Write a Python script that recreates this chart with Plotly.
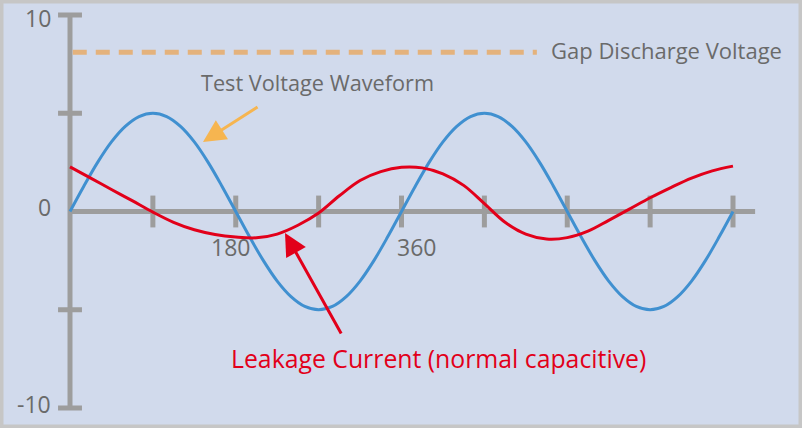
import plotly.graph_objects as go

# ---------------- data ----------------
deg_blue = [0, 15, 30, 45, 60, 75, 90, 105, 120, 135, 150, 165, 180,
            195, 210, 225, 240, 255, 270, 285, 300, 315, 330, 345, 360,
            375, 390, 405, 420, 435, 450, 465, 480, 495, 510, 525, 540,
            555, 570, 585, 600, 615, 630, 645, 660, 675, 690, 705, 720]
volt_blue = [0, 1.29, 2.5, 3.54, 4.33, 4.83, 5, 4.83, 4.33, 3.54, 2.5, 1.29, 0,
             -1.29, -2.5, -3.54, -4.33, -4.83, -5, -4.83, -4.33, -3.54, -2.5, -1.29, 0,
             1.29, 2.5, 3.54, 4.33, 4.83, 5, 4.83, 4.33, 3.54, 2.5, 1.29, 0,
             -1.29, -2.5, -3.54, -4.33, -4.83, -5, -4.83, -4.33, -3.54, -2.5, -1.29, 0]

deg_red = [0, 22.5, 45, 67.5, 90, 112.5, 135, 157.5, 180, 202.5, 225, 247.5,
           270, 292.5, 315, 337.5, 360, 382.5, 405, 427.5, 450, 472.5, 495,
           517.5, 540, 562.5, 585, 607.5, 630, 652.5, 675, 697.5, 720]
cur_red = [2.27, 1.70, 1.12, 0.55, -0.03, -0.55, -0.93, -1.17, -1.30, -1.34, -1.15, -0.70,
           -0.08, 0.80, 1.58, 2.03, 2.25, 2.22, 1.92, 1.33, 0.40, -0.55, -1.15,
           -1.40, -1.33, -1.00, -0.45, 0.12, 0.70, 1.22, 1.70, 2.07, 2.31]

gap_level = 8.1
gap_x = [3, 507]

x_ticks = [90, 180, 270, 360, 450, 540, 630, 720]
y_ticks = [10, 5, -5, -10]
y_tick_labels = ["10", "0", "-10"]
y_tick_label_vals = [10, 0, -10]
x_tick_labels = ["180", "360"]
x_tick_label_pos = [174.8, 376.8]

# ---------------- style ----------------
BG = "#d1daec"
FRAME = "#c6c6c6"
AX = "#9d9d9d"
BLUE = "#4090d0"
RED = "#e2001a"
TAN = "#e4b27c"
ORANGE = "#f6b550"
TXT = "#6a6a6a"
FONT = "Open Sans"

W, H = 802, 428
px_per_deg = 663 / 720.0
px_per_unit = 19.65
x0_px, y0_px = 70, 211.5
xr = [-x0_px / px_per_deg, (W - x0_px) / px_per_deg]
yr = [-(H - y0_px) / px_per_unit, y0_px / px_per_unit]

fig = go.Figure()

# axes
x_end = 744
fig.add_trace(go.Scatter(x=[0, x_end], y=[0, 0], mode="lines",
                         line=dict(color=AX, width=5), hoverinfo="skip"))
fig.add_trace(go.Scatter(x=[0, 0], y=[-10, 10], mode="lines",
                         line=dict(color=AX, width=5), hoverinfo="skip"))
tx, ty = [], []
for t in x_ticks:
    tx += [t, t, None]
    ty += [-0.81, 0.81, None]
fig.add_trace(go.Scatter(x=tx, y=ty, mode="lines",
                         line=dict(color=AX, width=5), hoverinfo="skip"))
ux, uy = [], []
for t in y_ticks:
    ux += [-13, 13, None]
    uy += [t, t, None]
fig.add_trace(go.Scatter(x=ux, y=uy, mode="lines",
                         line=dict(color=AX, width=5), hoverinfo="skip"))

# gap discharge line
fig.add_trace(go.Scatter(x=gap_x, y=[gap_level, gap_level], mode="lines",
                         line=dict(color=TAN, width=5, dash="14px,9px"),
                         hoverinfo="skip"))

# curves
fig.add_trace(go.Scatter(x=deg_blue, y=volt_blue, mode="lines",
                         line=dict(color=BLUE, width=3, shape="spline", smoothing=1.0),
                         hoverinfo="skip"))
fig.add_trace(go.Scatter(x=deg_red, y=cur_red, mode="lines",
                         line=dict(color=RED, width=3, shape="spline", smoothing=1.0),
                         hoverinfo="skip"))

ann = []
for lab, v in zip(y_tick_labels, y_tick_label_vals):
    ann.append(dict(x=-19, y=v + (0.25 if v == 0 else (-0.15 if v > 0 else 0.2)),
                    text=lab, showarrow=False, xanchor="right", yanchor="middle",
                    font=dict(family=FONT, size=23, color=TXT)))
for lab, p in zip(x_tick_labels, x_tick_label_pos):
    ann.append(dict(x=p, y=-1.81, text=lab, showarrow=False, xanchor="center",
                    yanchor="middle", font=dict(family=FONT, size=23, color=TXT)))

ann.append(dict(x=520.5, y=8.22, text="Gap Discharge Voltage", showarrow=False,
                xanchor="left", yanchor="middle",
                font=dict(family=FONT, size=22, color=TXT)))
ann.append(dict(x=140.3, y=6.56, text="Test Voltage Waveform", showarrow=False,
                xanchor="left", yanchor="middle",
                font=dict(family=FONT, size=21.7, color=TXT)))
ann.append(dict(x=173, y=-7.43, text="Leakage Current (normal capacitive)",
                showarrow=False, xanchor="left", yanchor="middle",
                font=dict(family=FONT, size=24.8, color=RED)))

# arrows
ann.append(dict(x=144.4, y=3.54, ax=205.3, ay=5.37, axref="x", ayref="y",
                text="", showarrow=True, arrowhead=2, arrowsize=1.5,
                arrowwidth=3, arrowcolor=ORANGE, standoff=0))
ann.append(dict(x=233.5, y=-1.09, ax=295.4, ay=-6.28, axref="x", ayref="y",
                text="", showarrow=True, arrowhead=2, arrowsize=1.5,
                arrowwidth=3, arrowcolor=RED, standoff=0))

fig.update_layout(
    width=W, height=H,
    margin=dict(l=0, r=0, t=0, b=0),
    paper_bgcolor=BG, plot_bgcolor=BG,
    showlegend=False,
    xaxis=dict(range=xr, visible=False, fixedrange=True),
    yaxis=dict(range=yr, visible=False, fixedrange=True),
    annotations=ann,
    shapes=[dict(type="rect", xref="paper", yref="paper", x0=0, x1=1, y0=0, y1=1,
                 line=dict(color=FRAME, width=7))],
)

fig.write_html("out.html", config={"displayModeBar": False})
